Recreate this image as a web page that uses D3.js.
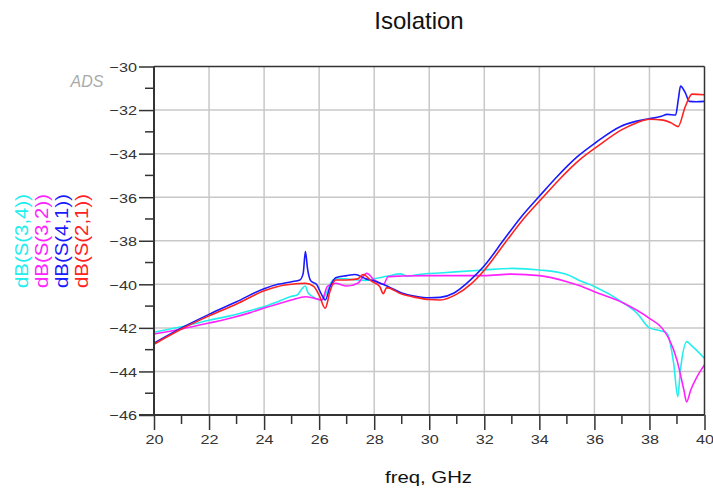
<!DOCTYPE html>
<html><head><meta charset="utf-8">
<script src="https://cdn.jsdelivr.net/npm/d3@7"></script>
<style>body{margin:0;background:#fff}svg{display:block;font-family:"Liberation Sans",Arial,sans-serif}</style>
</head><body>
<svg id="c" width="713" height="491"></svg>
<script>
const title = "Isolation";
const xLabel = "freq, GHz";
const xTicks = [20,22,24,26,28,30,32,34,36,38,40];
const yTicks = [-30,-32,-34,-36,-38,-40,-42,-44,-46];
const seriesNames = ["dB(S(3,4))","dB(S(3,2))","dB(S(4,1))","dB(S(2,1))"];
const seriesColors = ["#22eeee","#ff22ff","#1a1aff","#ff2222"];

const s34 = [[20,-42.2],[21,-41.95],[22,-41.65],[22.76,-41.45],[23.5,-41.2],[24,-41.03],[24.5,-40.8],[25,-40.55],[25.2,-40.49],[25.35,-40.25],[25.49,-40.08],[25.6,-40.4],[25.75,-40.55],[26.1,-40.72],[26.3,-40.3],[26.5,-39.8],[26.8,-39.73],[27.2,-39.78],[27.7,-39.82],[28,-39.75],[28.5,-39.62],[28.95,-39.52],[29.2,-39.62],[29.6,-39.55],[30.5,-39.47],[32,-39.34],[33,-39.27],[34,-39.34],[35,-39.55],[35.5,-39.85],[36,-40.1],[37.07,-40.87],[37.55,-41.33],[38,-42.0],[38.4,-42.13],[38.64,-42.25],[38.88,-43.63],[39.03,-45.16],[39.12,-44.0],[39.36,-42.63],[39.5,-42.78],[40,-43.4]];
const s32 = [[20,-42.28],[21,-42.05],[22,-41.78],[22.76,-41.56],[23.5,-41.3],[24,-41.09],[24.5,-40.9],[25,-40.72],[25.5,-40.57],[25.85,-40.65],[26.1,-40.72],[26.3,-40.1],[26.6,-39.95],[27,-40.08],[27.4,-39.95],[27.73,-39.5],[28,-39.8],[28.34,-40.0],[28.5,-39.65],[29,-39.62],[30,-39.6],[31,-39.6],[32,-39.6],[33,-39.53],[34,-39.6],[35,-39.88],[35.5,-40.08],[36,-40.34],[37.07,-40.87],[38,-41.56],[38.45,-42.0],[38.7,-42.48],[39,-43.48],[39.25,-44.85],[39.35,-45.4],[39.5,-44.85],[39.73,-44.24],[40,-43.7]];
const s41 = [[20,-42.7],[21,-42.0],[22,-41.38],[23,-40.8],[24,-40.2],[24.5,-40.0],[25,-39.88],[25.3,-39.8],[25.42,-39.5],[25.5,-38.5],[25.58,-39.3],[25.7,-39.85],[25.9,-40.0],[26.1,-40.5],[26.22,-40.72],[26.4,-40.1],[26.6,-39.7],[27,-39.6],[27.3,-39.55],[27.7,-39.75],[28,-39.85],[28.5,-40.1],[29,-40.4],[29.5,-40.55],[30,-40.62],[30.4,-40.6],[30.9,-40.4],[31.5,-39.8],[32,-39.15],[32.7,-37.97],[33.31,-36.95],[34.04,-35.9],[34.64,-35.06],[35.37,-34.15],[36.04,-33.5],[36.95,-32.75],[37.5,-32.52],[38,-32.4],[38.4,-32.3],[38.65,-32.2],[38.95,-32.23],[39.05,-31.5],[39.13,-30.9],[39.3,-31.2],[39.45,-31.6],[39.7,-31.62],[40,-31.6]];
const s21 = [[20,-42.75],[21,-42.05],[22,-41.45],[23,-40.9],[24,-40.3],[24.5,-40.1],[25,-40.0],[25.5,-39.95],[25.8,-40.1],[26,-40.5],[26.22,-41.1],[26.4,-40.3],[26.6,-39.8],[27,-39.8],[27.4,-39.75],[27.6,-39.55],[27.9,-39.85],[28.2,-40.1],[28.33,-40.43],[28.45,-40.15],[29,-40.45],[29.5,-40.6],[30,-40.7],[30.4,-40.72],[31,-40.45],[31.5,-40.0],[32,-39.35],[32.75,-38.1],[33.37,-37.08],[34.1,-36.05],[34.7,-35.22],[35.45,-34.3],[36.1,-33.68],[37.0,-32.9],[37.5,-32.6],[38,-32.42],[38.5,-32.46],[38.8,-32.6],[39.04,-32.76],[39.3,-31.85],[39.55,-31.27],[40,-31.3]];
const seriesData = [s34, s32, s41, s21];

const svg = d3.select("#c");
const L = 154, R = 704.5, T = 66.5, B = 415;
const x = d3.scaleLinear().domain([20,40]).range([L,R]);
const y = d3.scaleLinear().domain([-46,-30]).range([B,T]);

// grid
const g = svg.append("g");
g.selectAll("line.vx").data(xTicks.slice(1,-1)).join("line")
  .attr("x1",d=>x(d)).attr("x2",d=>x(d)).attr("y1",T).attr("y2",B)
  .attr("stroke","#c8c8c8").attr("stroke-width",1.5);
g.selectAll("line.hy").data(yTicks.slice(1,-1)).join("line")
  .attr("x1",L).attr("x2",R).attr("y1",d=>y(d)).attr("y2",d=>y(d))
  .attr("stroke","#c8c8c8").attr("stroke-width",1.5);

svg.append("clipPath").attr("id","clip").append("rect")
  .attr("x",L).attr("y",T-2).attr("width",R-L).attr("height",B-T+4);

const line = d3.line().x(d=>x(d[0])).y(d=>y(d[1])).curve(d3.curveMonotoneX);
svg.append("g").attr("clip-path","url(#clip)").selectAll("path").data(seriesData).join("path")
  .attr("d",line).attr("fill","none")
  .attr("stroke",(d,i)=>seriesColors[i]).attr("stroke-width",1.6);

// border
svg.append("line").attr("x1",L).attr("x2",R).attr("y1",T).attr("y2",T).attr("stroke","#333").attr("stroke-width",1.5);
svg.append("line").attr("x1",R).attr("x2",R).attr("y1",T).attr("y2",B).attr("stroke","#333").attr("stroke-width",1.5);

// axes
const yMinor = d3.range(-45,-30,2);
const xMinor = d3.range(21,40,2);
const yAxis = d3.axisLeft(y).tickValues(yTicks).tickSize(15).tickPadding(2).tickFormat(d3.format("d"));
const yAx = svg.append("g").attr("transform",`translate(${L},0)`).call(yAxis);
const xAxis = d3.axisBottom(x).tickValues(xTicks).tickSize(15).tickPadding(4).tickFormat(d3.format("d"));
const xAx = svg.append("g").attr("transform",`translate(0,${B})`).call(xAxis);
[yAx,xAx].forEach(a=>{
  a.select(".domain").remove();
  a.selectAll("line").attr("stroke","#333").attr("stroke-width",1.5);
  a.selectAll("text").attr("fill","#333").attr("font-size",13.5).attr("font-family","Liberation Sans, Arial, sans-serif");
  a.selectAll("text").each(function(){
    const w = this.getComputedTextLength();
    d3.select(this).attr("textLength", w*1.2).attr("lengthAdjust","spacingAndGlyphs");
  });
});
yAx.selectAll("text").attr("dy","0.36em");
svg.append("g").selectAll("line").data(yMinor).join("line")
  .attr("x1",L-9).attr("x2",L).attr("y1",d=>y(d)).attr("y2",d=>y(d)).attr("stroke","#333").attr("stroke-width",1.5);
svg.append("g").selectAll("line").data(xMinor).join("line")
  .attr("x1",d=>x(d)).attr("x2",d=>x(d)).attr("y1",B).attr("y2",B+9).attr("stroke","#333").attr("stroke-width",1.5);
svg.append("line").attr("x1",L).attr("x2",L).attr("y1",T).attr("y2",B).attr("stroke","#333").attr("stroke-width",2);
svg.append("line").attr("x1",L-15).attr("x2",R).attr("y1",B).attr("y2",B).attr("stroke","#333").attr("stroke-width",2);

// texts
svg.append("text").attr("x",419).attr("y",29).attr("text-anchor","middle")
  .attr("font-size",24).attr("fill","#111").text(title);
svg.append("text").attr("x",428.5).attr("y",483).attr("text-anchor","middle")
  .attr("font-size",16.5).attr("fill","#111")
  .attr("textLength",87).attr("lengthAdjust","spacingAndGlyphs").text(xLabel);
svg.append("text").attr("x",70.5).attr("y",87).attr("text-anchor","start")
  .attr("font-size",16).attr("font-style","italic").attr("fill","#aaa").text("ADS");

// legend
svg.append("g").selectAll("text").data(seriesNames).join("text")
  .attr("transform",(d,i)=>`translate(${27.5+20*i},288) rotate(-90)`)
  .attr("font-size",18).attr("fill",(d,i)=>seriesColors[i])
  .attr("textLength",94).attr("lengthAdjust","spacingAndGlyphs").text(d=>d);
</script>
</body></html>
